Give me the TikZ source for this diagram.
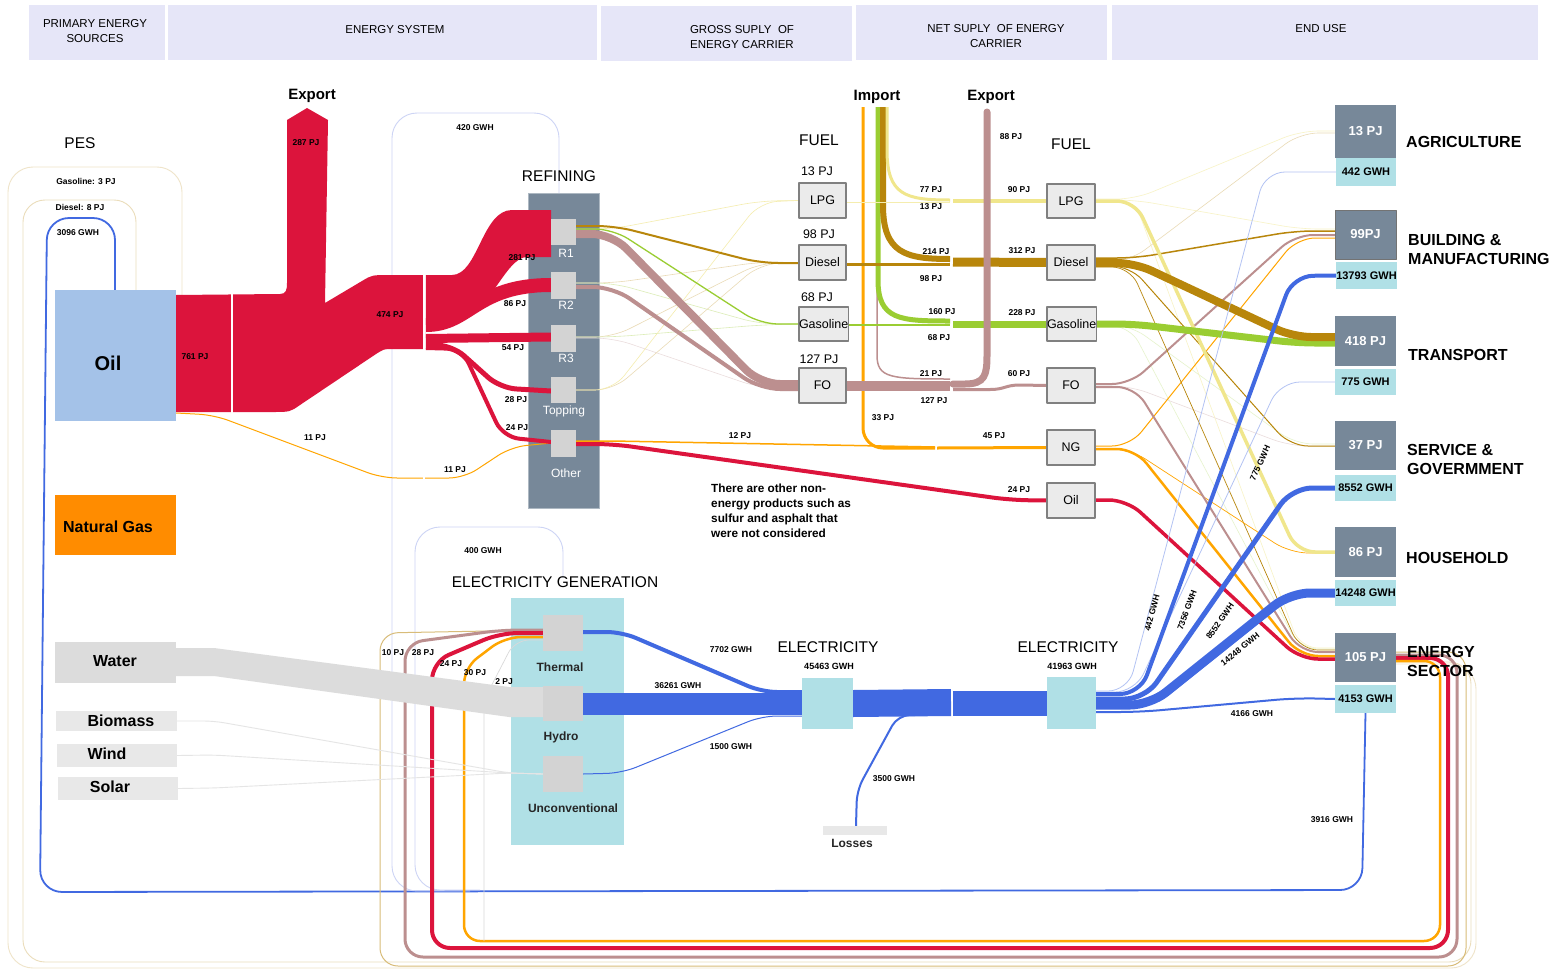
\documentclass[tikz,border=0pt]{standalone}
\usepackage{fontspec}
\setmainfont{Liberation Sans}
\definecolor{hdrc}{RGB}{230,230,248}
\definecolor{oilc}{RGB}{164,194,232}
\definecolor{ngc}{RGB}{255,140,0}
\definecolor{crim}{RGB}{220,20,60}
\definecolor{goldc}{RGB}{184,134,11}
\definecolor{grn}{RGB}{154,205,50}
\definecolor{rosy}{RGB}{188,143,143}
\definecolor{lpgc}{RGB}{240,230,140}
\definecolor{orng}{RGB}{255,165,0}
\definecolor{eblue}{RGB}{65,105,225}
\definecolor{powder}{RGB}{176,224,230}
\definecolor{slate}{RGB}{119,136,153}
\definecolor{fuelc}{RGB}{235,235,235}
\definecolor{fuelbd}{RGB}{128,128,128}
\definecolor{smallb}{RGB}{211,211,211}
\definecolor{waterc}{RGB}{220,220,220}
\definecolor{srcg}{RGB}{232,232,232}
\definecolor{lav}{RGB}{205,212,245}
\pgfdeclarelayer{bgzero}
\pgfdeclarelayer{flows}
\pgfsetlayers{bgzero,flows,main}
\newcommand\boxnode[7]{\node[#1,anchor=north west,inner sep=0pt,outer sep=0pt,minimum width={(#5-#3)*1pt},minimum height={(#6-#4)*1pt}] (#2) at (#3,#4) {#7};}
\begin{document}
\begin{tikzpicture}[x=1pt,y=-1pt,line join=round,
  hdr/.style={fill=hdrc},
  hdrtext/.style={align=center,font=\fontsize{11.5}{15}\selectfont},
  fuelbox/.style={fill=fuelc,draw=fuelbd,line width=1.2pt,font=\fontsize{12.5}{14}\selectfont},
  pjbox/.style={fill=slate,text=white,font=\bfseries\fontsize{13}{15}\selectfont},
  gwhbox/.style={fill=powder,font=\bfseries\fontsize{11}{13}\selectfont},
  srctext/.style={font=\bfseries\fontsize{16}{18}\selectfont},
  smallbox/.style={fill=smallb},
  lab/.style={font=\bfseries\fontsize{8.5}{10}\selectfont,inner sep=1pt},
  glab/.style={font=\bfseries\fontsize{9}{10}\selectfont,inner sep=1pt},
  ttl/.style={font=\fontsize{15.5}{18}\selectfont},
  bttl/.style={font=\bfseries\fontsize{15}{18}\selectfont},
  enduselab/.style={font=\bfseries\fontsize{16}{19}\selectfont,align=left,anchor=west,inner sep=0pt},
  whitelab/.style={text=white,font=\fontsize{12}{14}\selectfont},
  darklab/.style={text=black!85,font=\bfseries\fontsize{12}{14}\selectfont},
  faint/.style={line width=0.6pt},
  rc/.style={rounded corners=18pt}]
\useasboundingbox (0,0) rectangle (1558,972);
\begin{pgfonlayer}{bgzero}
\fill[white] (0,0) rectangle (1558,972);
\end{pgfonlayer}

% ---------- headers
\boxnode{hdr}{h1}{29}{5}{165}{60}{}
\boxnode{hdr}{h2}{168}{5}{597}{60}{}
\boxnode{hdr}{h3}{601}{6}{852}{61}{}
\boxnode{hdr}{h4}{856}{5}{1107}{60}{}
\boxnode{hdr}{h5}{1112}{5}{1538}{60}{}
\node[hdrtext] at (95,31) {PRIMARY ENERGY\\SOURCES};
\node[hdrtext] at (395,30) {ENERGY SYSTEM};
\node[hdrtext] at (742,37) {GROSS SUPLY~~OF\\ENERGY CARRIER};
\node[hdrtext] at (996,36) {NET SUPLY~~OF ENERGY\\CARRIER};
\node[hdrtext] at (1321,29) {END USE};

% ---------- big containers
\begin{pgfonlayer}{bgzero}
\boxnode{fill=slate,draw=slate!60}{refin}{528}{193}{599}{508}{}
\boxnode{fill=powder}{egen}{511}{598}{624}{845}{}
\end{pgfonlayer}

% ---------- primary sources
\boxnode{fill=oilc}{oil}{55}{290}{176}{421}{}
\boxnode{fill=ngc}{ng}{55}{495}{176}{555}{}
\boxnode{fill=waterc}{water}{55}{642}{176}{683}{}
\boxnode{fill=srcg}{bio}{56}{711}{177}{731}{}
\boxnode{fill=srcg}{wind}{57}{744}{177}{767}{}
\boxnode{fill=srcg}{solar}{58}{777}{178}{800}{}
\node[srctext,font=\bfseries\fontsize{20}{22}\selectfont] at (108,363) {Oil};
\node[srctext] at (108,527) {Natural Gas};
\node[srctext] at (115,661) {Water};
\node[srctext] at (121,721) {Biomass};
\node[srctext] at (107,754) {Wind};
\node[srctext] at (110,787) {Solar};

% ---------- refining units
\boxnode{smallbox}{r1}{551}{219}{576}{245}{}
\boxnode{smallbox}{r2}{551}{272}{576}{299}{}
\boxnode{smallbox}{r3}{551}{325}{576}{352}{}
\boxnode{smallbox}{rtop}{551}{377}{576}{403}{}
\boxnode{smallbox}{roth}{551}{430}{576}{457}{}
\node[whitelab] at (566,253) {R1};
\node[whitelab] at (566,305) {R2};
\node[whitelab] at (566,358) {R3};
\node[whitelab] at (564,411) {Topping};
\node[whitelab] at (566,473) {Other};
\node[ttl] at (559,176) {REFINING};

% ---------- electricity generation units
\boxnode{smallbox}{therm}{543}{615}{583}{651}{}
\boxnode{smallbox}{hydro}{543}{686}{583}{721}{}
\boxnode{smallbox}{uncon}{543}{756}{583}{792}{}
\node[darklab] at (560,667) {Thermal};
\node[darklab] at (561,737) {Hydro};
\node[darklab] at (573,808) {Unconventional};
\node[ttl] at (555,582) {ELECTRICITY GENERATION};

% ---------- gross supply fuels
\boxnode{fuelbox}{lpgG}{799}{183}{846}{218}{LPG}
\boxnode{fuelbox}{dslG}{799}{245}{846}{280}{Diesel}
\boxnode{fuelbox}{gasG}{799}{307}{846}{341}{Gasoline}
\boxnode{fuelbox}{foG}{799}{368}{846}{403}{FO}
\node[ttl] at (819,140) {FUEL};
\node[font=\fontsize{12.5}{14}\selectfont] at (817,171) {13 PJ};
\node[font=\fontsize{12.5}{14}\selectfont] at (819,234) {98 PJ};
\node[font=\fontsize{12.5}{14}\selectfont] at (817,297) {68 PJ};
\node[font=\fontsize{12.5}{14}\selectfont] at (819,359) {127 PJ};

% ---------- net supply fuels
\boxnode{fuelbox}{lpgN}{1047}{184}{1095}{218}{LPG}
\boxnode{fuelbox}{dslN}{1047}{245}{1095}{280}{Diesel}
\boxnode{fuelbox}{gasN}{1047}{307}{1095}{341}{Gasoline}
\boxnode{fuelbox}{foN}{1047}{368}{1095}{403}{FO}
\boxnode{fuelbox}{ngN}{1047}{430}{1095}{465}{NG}
\boxnode{fuelbox}{oilN}{1047}{483}{1095}{518}{Oil}
\node[ttl] at (1071,144) {FUEL};
\node[bttl] at (877,97) {Import};
\node[bttl] at (991,97) {Export};
\node[bttl] at (312,96) {Export};

% ---------- electricity nodes
\boxnode{fill=powder}{el1}{802}{678}{853}{729}{}
\boxnode{fill=powder}{el2}{1047}{677}{1096}{729}{}
\boxnode{fill=srcg}{loss}{823}{826}{887}{835}{}
\node[ttl] at (828,647) {ELECTRICITY};
\node[glab] at (829,666) {45463 GWH};
\node[ttl] at (1068,647) {ELECTRICITY};
\node[glab] at (1072,666) {41963 GWH};
\node[darklab] at (852,843) {Losses};

% ---------- end use
\boxnode{pjbox}{ag}{1335}{105}{1396}{158}{13 PJ}
\boxnode{gwhbox}{agE}{1336}{158}{1396}{186}{442 GWH}
\boxnode{pjbox,draw=black!55,line width=1pt}{bm}{1335}{210}{1396}{259}{99PJ}
\boxnode{gwhbox}{bmE}{1336}{262}{1397}{289}{13793 GWH}
\boxnode{pjbox}{tr}{1335}{316}{1396}{366}{418 PJ}
\boxnode{gwhbox}{trE}{1335}{369}{1396}{395}{775 GWH}
\boxnode{pjbox}{sv}{1335}{421}{1396}{470}{37 PJ}
\boxnode{gwhbox}{svE}{1335}{475}{1396}{501}{8552 GWH}
\boxnode{pjbox}{hh}{1335}{527}{1396}{577}{86 PJ}
\boxnode{gwhbox}{hhE}{1335}{580}{1396}{606}{14248 GWH}
\boxnode{pjbox}{es}{1335}{633}{1396}{682}{105 PJ}
\boxnode{gwhbox}{esE}{1335}{685}{1396}{713}{4153 GWH}
\node[enduselab] at (1406,142) {AGRICULTURE};
\node[enduselab] at (1408,249) {BUILDING \&\\MANUFACTURING};
\node[enduselab] at (1408,355) {TRANSPORT};
\node[enduselab] at (1407,459) {SERVICE \&\\GOVERMMENT};
\node[enduselab] at (1406,558) {HOUSEHOLD};
\node[enduselab] at (1407,661) {ENERGY\\SECTOR};

% ================= FLOWS =================
\begin{pgfonlayer}{flows}
% faint outer loops (gasoline / diesel back to oil)
\draw[goldc!22,line width=0.9pt,rounded corners=25pt] (182,295) -- (182,167) -- (8,167) -- (8,968) -- (1476,968) -- (1476,664) -- (es.east |- 0,664);
\draw[goldc!28,line width=0.9pt,rounded corners=22pt] (136,290) -- (136,200) -- (23,200) -- (23,962) -- (1471,962) -- (1471,662) -- (es.east |- 0,662);
% electricity back to oil
\draw[eblue,line width=1.8pt,rounded corners=22pt] (esE.south) -- (1362,890) -- (40,892) -- (47,218) -- (115,218) -- (oil.north -| 115,0);
% electricity to refining / generation
\draw[lav,line width=0.9pt,rounded corners=25pt] (470,891) -- (392,891) -- (392,113) -- (559,113) -- (refin.north -| 559,0);
\draw[lav,line width=0.9pt,rounded corners=25pt] (480,890) -- (415,890) -- (415,527) -- (563,527) -- (563,578);
% fuels from energy sector to thermal
\draw[goldc!55,line width=1pt,rounded corners=18pt] (1396,652) -- (1466,652) -- (1466,966) -- (380,966) -- (380,633) -- (therm.west |- 0,630);
\draw[rosy,line width=3pt,rounded corners=18pt] (1396,655) -- (1457,655) -- (1457,957) -- (405,957) -- (405,643) -- (502,630) -- (therm.west |- 0,630);
\draw[crim,line width=4pt,rounded corners=18pt] (1396,658) -- (1448,658) -- (1448,948) -- (432,948) -- (432,662) -- (500,633) -- (therm.west |- 0,633);
\draw[orng,line width=2.5pt,rounded corners=16pt] (1396,661) -- (1440,661) -- (1440,941) -- (464,941) -- (464,668) -- (505,637) -- (therm.west |- 0,637);
\draw[black!15,line width=0.7pt,rounded corners=14pt] (484,941) -- (484,700) -- (515,640) -- (therm.west |- 0,640);

% renewables to generation
\fill[waterc] (water.east |- 0,648) -- (214,648) -- (509,687) -- (543,687) -- (543,717) -- (509,717) -- (214,676) -- (176,676) -- cycle;
\draw[black!10,line width=0.9pt,rounded corners=10pt] (bio.east) -- (214,721) -- (509,773) -- (uncon.west);
\draw[black!10,line width=0.9pt,rounded corners=10pt] (wind.east) -- (214,755) -- (509,773) -- (uncon.west);
\draw[black!10,line width=0.9pt,rounded corners=10pt] (solar.east) -- (214,788) -- (509,773) -- (uncon.west);

% oil trunk
\fill[crim] (176,295) -- (280,294) .. controls (286,294) and (287,290) .. (287,283) -- (287,120) -- (307,108) -- (328,120) -- (325,303) -- (362,281) .. controls (372,275) .. (390,275) -- (425,275) -- (425,349) -- (392,349) .. controls (384,349) .. (376,354) -- (300,405) .. controls (290,412) .. (272,412) -- (176,412) -- cycle;
\draw[white,line width=1.5pt] (232,293) -- (232,413);
\draw[white,line width=1.5pt] (424,274) -- (424,350);
% 11 PJ line
\draw[orng,line width=1pt,rounded corners=15pt] (176,413) -- (214,415) -- (382,478) -- (464,478) -- (511,447) -- (roth.west |- 0,443);
\draw[white,line width=1.5pt] (424,474) -- (424,482);
% refinery feeds
\fill[crim] (426,275) -- (452,275) .. controls (478,275) and (482,210) .. (512,210) -- (551,210) -- (551,257) -- (527,257) .. controls (505,257) and (488,318) .. (458,318) -- (426,318) -- cycle;
\draw[crim,line width=14pt] (426,325) .. controls (470,325) and (475,285) .. (r2.west |- 0,285);
\draw[crim,line width=9pt] (426,338.5) -- (r3.west |- 0,337);
\draw[crim,line width=5pt,rounded corners=16pt] (426,345) -- (452,345) -- (500,388) -- (rtop.west |- 0,391);
\draw[crim,line width=4pt,rounded corners=16pt] (426,348) -- (462,349) -- (503,437) -- (roth.west |- 0,442);

% refinery outputs, faint
\draw[lpgc!70,faint,rc] (576,229) -- (612,229) -- (760,201) -- (lpgG.west);
\draw[goldc!30,faint,rc] (576,283) -- (613,283) -- (760,262) -- (dslG.west);
\draw[grn!35,faint,rc] (576,283) -- (613,283) -- (760,324) -- (gasG.west);
\draw[goldc!30,faint,rc] (576,337) -- (613,337) -- (760,263) -- (dslG.west);
\draw[grn!35,faint,rc] (576,337) -- (613,337) -- (760,325) -- (gasG.west);
\draw[rosy!30,faint,rc] (576,338) -- (613,338) -- (760,388) -- (foG.west);
\draw[goldc!30,faint,rc] (576,390) -- (613,390) -- (760,264) -- (dslG.west);
\draw[lpgc!70,faint,rc] (576,390) -- (613,390) -- (760,202) -- (lpgG.west);
% refinery outputs, main
\draw[goldc,line width=2pt,rc] (576,226) -- (615,226) -- (760,263) -- (799,263);
\draw[grn,line width=1.3pt,rc] (576,229) -- (613,229) -- (760,324) -- (799,324);
\draw[rosy,line width=8pt,rounded corners=20pt] (576,234) -- (612,234) -- (760,384) -- (799,384);
\draw[rosy,line width=4pt,rounded corners=20pt] (576,287) -- (613,287) -- (760,389) -- (799,389);
% other products
\draw[orng,line width=1.5pt,rc] (576,441) -- (613,441) -- (935,447);
\draw[crim,line width=4pt,rc] (576,444) -- (613,444) -- (1010,500) -- (oilN.west);

% import / export and gross -> net
\draw[orng,line width=3pt,rounded corners=20pt] (863,107) -- (863,448) -- (935,448);
\draw[orng,line width=3pt] (937,448) -- (ngN.west);
\draw[rosy,line width=1.5pt] (877,107) -- (877,355) .. controls (877,378) and (890,379) .. (950,379);
\draw[grn,line width=5pt] (878,107) -- (878,280) .. controls (878,320) and (900,321) .. (950,321);
\draw[goldc,line width=6pt] (883,107) -- (883,205) .. controls (883,253) and (905,259) .. (950,259);
\draw[lpgc,line width=3pt] (887,107) -- (887,150) .. controls (887,195) and (905,200) .. (950,200);
\draw[lpgc!70,line width=1pt] (lpgG.east |- 0,202) -- (950,202);
\draw[goldc,line width=3pt] (dslG.east |- 0,264) -- (950,264);
\draw[grn,line width=2pt] (gasG.east |- 0,325) -- (950,325);
\draw[rosy,line width=10pt] (foG.east |- 0,386) -- (950,386);
\draw[lpgc,line width=4pt] (953,201) -- (lpgN.west);
\draw[goldc,line width=9pt] (953,262) -- (dslN.west);
\draw[grn,line width=7pt] (953,324) -- (gasN.west);
\draw[rosy,line width=7pt,line cap=round] (953,384) -- (965,384) .. controls (985,384) and (987,375) .. (987,355) -- (987,112);
\draw[rosy,line width=3pt] (953,389.5) -- (990,389.5) .. controls (1005,389.5) and (1005,385) .. (1020,385) -- (foN.west);

% net -> end use, faint
\draw[lpgc!50,faint,rc] (1095,199) -- (1135,199) -- (1300,131) -- (ag.west |- 0,131);
\draw[goldc!30,faint,rc] (1095,261) -- (1130,261) -- (1300,133) -- (ag.west |- 0,133);
\draw[lpgc!50,faint,rc] (1095,200) -- (1135,200) -- (1300,229) -- (bm.west |- 0,229);
\draw[grn!25,faint,rc] (1095,325) -- (1130,325) -- (1295,444) -- (sv.west |- 0,444);
\draw[rosy!30,faint,rc] (1095,386) -- (1130,386) -- (1290,446) -- (sv.west |- 0,446);
\draw[grn!25,faint,rc] (1095,326) -- (1130,326) -- (1300,649) -- (es.west |- 0,649);
\draw[lpgc!50,faint,rc] (1095,202) -- (1135,202) -- (1300,648) -- (es.west |- 0,648);
% net -> end use, main
\draw[goldc,line width=1.5pt,rc] (1095,258) -- (1135,258) -- (1295,231) -- (bm.west |- 0,231);
\draw[rosy,line width=2pt,rc] (1095,384) -- (1130,384) -- (1295,235) -- (bm.west |- 0,235);
\draw[orng,line width=1pt,rc] (1095,446) -- (1130,446) -- (1297,238) -- (bm.west |- 0,238);
\draw[goldc,line width=1pt,rc] (1095,266) -- (1130,266) -- (1290,446) -- (sv.west |- 0,446);
\draw[goldc,line width=0.7pt,rc] (1095,267) -- (1130,267) -- (1300,650) -- (es.west |- 0,650);
\draw[orng,line width=0.7pt,rc] (1095,449) -- (1130,449) -- (1290,553) -- (hh.west |- 0,553);
\draw[rosy,line width=2pt,rc] (1095,387) -- (1135,387) -- (1300,652) -- (es.west |- 0,652);
\draw[orng,line width=2.5pt,rc] (1095,449) -- (1135,449) -- (1300,656) -- (es.west |- 0,656);
\draw[crim,line width=3.5pt,rc] (1095,500) -- (1127,500) -- (1300,659) -- (es.west |- 0,659);
\draw[lpgc,line width=3.5pt,rc] (1095,201) -- (1135,201) -- (1297,552) -- (hh.west |- 0,552);
\draw[grn,line width=7pt,rc] (1095,324) -- (1133,324) -- (1297,343) -- (tr.west |- 0,343);
\draw[goldc,line width=8pt,rc] (1095,263) -- (1135,263) -- (1293,337) -- (tr.west |- 0,337);

% electricity
\draw[eblue,line width=4pt,rounded corners=15pt] (therm.east |- 0,632) -- (622,632) -- (762,692) -- (el1.west |- 0,692);
\draw[eblue,line width=22pt] (hydro.east |- 0,704) -- (el1.west |- 0,704);
\draw[eblue,line width=1pt,rounded corners=15pt] (uncon.east) -- (622,773) -- (762,716) -- (el1.west |- 0,716);
\draw[eblue,line width=27pt] (el1.east |- 0,703.5) -- (951,702.5);
\draw[eblue,line width=2pt,rounded corners=12pt] (915,715) -- (898,715) -- (857,790) -- (loss.north -| 856,0);
\draw[eblue,line width=25pt] (953,703.5) -- (el2.west |- 0,703.5);
\draw[eblue!40,line width=0.8pt,rounded corners=20pt] (1096,691) -- (1128,691) -- (1265,172) -- (agE.west);
\draw[eblue!40,line width=0.8pt,rounded corners=20pt] (1096,692) -- (1135,692) -- (1280,382) -- (trE.west);
\draw[eblue,line width=4pt,rounded corners=20pt] (1096,694) -- (1140,694) -- (1293,276) -- (bmE.west);
\draw[eblue,line width=5pt,rounded corners=20pt] (1096,699) -- (1145,699) -- (1292,488) -- (svE.west);
\draw[eblue,line width=9pt,rounded corners=20pt] (1096,705) -- (1150,705) -- (1290,593) -- (hhE.west);
\draw[eblue,line width=2pt,rounded corners=20pt] (1096,712) -- (1140,712) -- (1296,698) -- (esE.west);
\end{pgfonlayer}

% ================= LABELS =================
\node[lab] at (306,143) {287 PJ};
\node[lab] at (195,357) {761 PJ};
\node[lab] at (390,315) {474 PJ};
\node[lab] at (522,258) {281 PJ};
\node[lab] at (515,304) {86 PJ};
\node[lab] at (513,348) {54 PJ};
\node[lab] at (516,400) {28 PJ};
\node[lab] at (517,428) {24 PJ};
\node[lab] at (315,438) {11 PJ};
\node[lab] at (455,470) {11 PJ};
\node[lab] at (740,436) {12 PJ};
\node[font=\fontsize{15.5}{18}\selectfont] at (80,143) {PES};
\node[lab] at (86,181) {Gasoline: 3 PJ};
\node[lab] at (80,207) {Diesel: 8 PJ};
\node[lab] at (78,233) {3096 GWH};
\node[lab] at (475,128) {420 GWH};
\node[lab] at (483,551) {400 GWH};
\node[lab] at (931,190) {77 PJ};
\node[lab] at (931,207) {13 PJ};
\node[lab] at (1019,190) {90 PJ};
\node[lab] at (936,252) {214 PJ};
\node[lab] at (931,279) {98 PJ};
\node[lab] at (1022,251) {312 PJ};
\node[lab] at (942,312) {160 PJ};
\node[lab] at (939,338) {68 PJ};
\node[lab] at (1022,313) {228 PJ};
\node[lab] at (931,374) {21 PJ};
\node[lab] at (934,401) {127 PJ};
\node[lab] at (1019,374) {60 PJ};
\node[lab] at (883,418) {33 PJ};
\node[lab] at (994,436) {45 PJ};
\node[lab] at (1019,490) {24 PJ};
\node[lab] at (1011,137) {88 PJ};
\node[anchor=north west,align=left,inner sep=0pt,font=\bfseries\fontsize{11.8}{15}\selectfont] at (711,484) {There are other non-\\energy products such as\\sulfur and asphalt that\\were not considered};
\node[lab] at (393,653) {10 PJ};
\node[lab] at (423,653) {28 PJ};
\node[lab] at (451,664) {24 PJ};
\node[lab] at (475,673) {30 PJ};
\node[lab] at (504,682) {2 PJ};
\node[lab] at (731,650) {7702 GWH};
\node[lab] at (678,686) {36261 GWH};
\node[lab] at (731,747) {1500 GWH};
\node[lab] at (894,779) {3500 GWH};
\node[lab] at (1252,714) {4166 GWH};
\node[lab] at (1332,820) {3916 GWH};
\node[lab,rotate=75] at (1152,613) {442 GWH};
\node[lab,rotate=70] at (1187,610) {7356 GWH};
\node[lab,rotate=55] at (1220,621) {8552 GWH};
\node[lab,rotate=39] at (1240,649) {14248 GWH};
\node[lab,rotate=65] at (1260,463) {775 GWH};
\end{tikzpicture}
\end{document}
